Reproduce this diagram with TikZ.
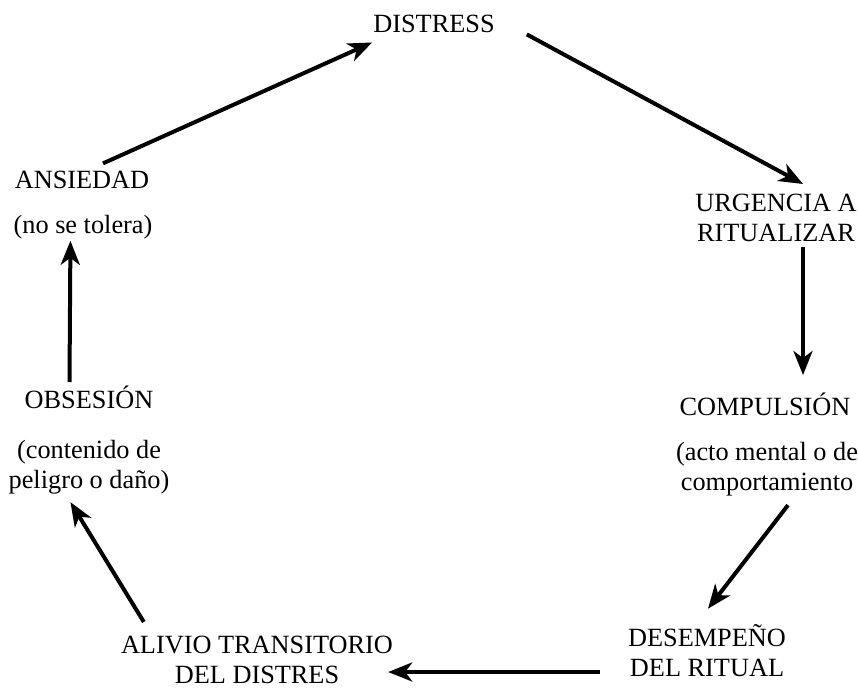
\documentclass[tikz,border=0pt]{standalone}
\usepackage{fontspec}
\setmainfont{Liberation Serif}
\usetikzlibrary{arrows.meta,calc}

\begin{document}
\begin{tikzpicture}[
  x=1pt, y=-1pt,
  every node/.style={font=\fontsize{26.3}{30}\selectfont, inner sep=0pt},
  lbl/.style={align=center},
  arr/.style={-{Stealth[length=24pt,width=19pt,inset=7pt]}, line width=4pt}
]
\useasboundingbox (0,0) rectangle (858,688);

%% top
\node[lbl, anchor=base] (distress) at (434, 32) {DISTRESS};

%% right side
\node[lbl, anchor=center] (urgencia)   at (776, 218) {URGENCIA A\\RITUALIZAR};
\node[lbl, anchor=base]   (compulsion) at (765, 415) {COMPULSIÓN};
\node[lbl, anchor=center] (acto)       at (767, 469) {(acto mental o de\\comportamiento};
\node[lbl, anchor=center] (desempeno)  at (707, 651) {DESEMPEÑO\\DEL RITUAL};

%% left side
\node[lbl, anchor=center] (alivio)    at (257, 660) {ALIVIO TRANSITORIO\\DEL DISTRES};
\node[lbl, anchor=base]   (obsesion)  at (89, 408)  {OBSESIÓN};
\node[lbl, anchor=center] (contenido) at (89, 467)  {(contenido de\\peligro o daño)};
\node[lbl, anchor=base]   (ansiedad)  at (82, 188)  {ANSIEDAD};
\node[lbl, anchor=base]   (notol)     at (83, 233)  {(no se tolera)};

%% cycle
\draw[arr] ($(ansiedad.north)+(21,-7)$) -- ($(distress.south west)+(-1,10)$);
\draw[arr] ($(distress.east)+(32,11)$) -- ($(urgencia.north)+(27,-10)$);
\draw[arr] ($(urgencia.south)+(27,5)$) -- ($(urgencia.south)+(27,133)$);
\draw[arr] ($(acto.south)+(21,9)$) -- ($(desempeno.north)+(1,-16)$);
\draw[arr] ($(desempeno.west)+(-28,21)$) -- ($(alivio.east)+(-5,12)$);
\draw[arr] ($(alivio.north west)+(23,-14)$) -- ($(contenido.south west)+(62,8)$);
\draw[arr] ($(obsesion.north west)+(45,-3)$) -- ($(notol.south west)+(57,2)$);

\end{tikzpicture}
\end{document}
